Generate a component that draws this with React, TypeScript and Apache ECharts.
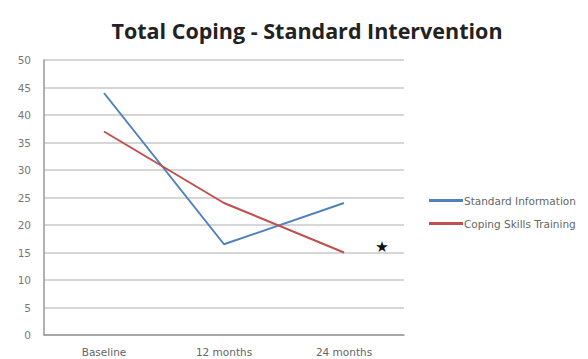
import React, { useEffect, useRef } from "react";
import * as echarts from "echarts";

const categories = ["Baseline", "12 months", "24 months"];
const standardInformation = [44, 16.5, 24];
const copingSkillsTraining = [37, 24, 15];
const seriesNames = ["Standard Information", "Coping Skills Training"];
const titleText = "Total Coping - Standard Intervention";

export default function App() {
  const ref = useRef<HTMLDivElement>(null);
  useEffect(() => {
    if (!ref.current) return;
    const chart = echarts.init(ref.current, null, { renderer: "svg" });
    chart.setOption({
      animation: false,
      backgroundColor: "#ffffff",
      title: {
        text: titleText,
        left: 302,
        textAlign: "center",
        top: 14,
        textStyle: { fontFamily: "Open Sans", fontWeight: "bold", fontSize: 21.5, color: "#222" },
      },
      legend: {
        orient: "vertical",
        left: 424,
        top: 190,
        itemWidth: 34,
        itemHeight: 3,
        itemGap: 12,
        icon: "rect",
        textStyle: { fontFamily: "DejaVu Sans", fontSize: 10.5, color: "#666", padding: [0, 0, 0, -4] },
        data: seriesNames,
      },
      grid: { left: 44, right: 184, top: 60, bottom: 24 },
      xAxis: {
        type: "category",
        data: categories,
        boundaryGap: true,
        axisLine: { lineStyle: { color: "#999", width: 1.5 } },
        axisTick: { show: false },
        axisLabel: { fontFamily: "DejaVu Sans", fontSize: 10.5, color: "#666", margin: 11 },
      },
      yAxis: {
        type: "value",
        min: 0,
        max: 50,
        interval: 5,
        axisLine: { show: true, lineStyle: { color: "#999", width: 1.5 } },
        axisTick: { show: false },
        axisLabel: { fontFamily: "DejaVu Sans", fontSize: 10.5, color: "#777", margin: 13 },
        splitLine: { lineStyle: { color: "#c8c8c8", width: 1.5 } },
      },
      series: [
        {
          name: seriesNames[0],
          type: "line",
          data: standardInformation,
          symbol: "none",
          lineStyle: { color: "#4f81bd", width: 2 },
          itemStyle: { color: "#4f81bd" },
        },
        {
          name: seriesNames[1],
          type: "line",
          data: copingSkillsTraining,
          symbol: "none",
          lineStyle: { color: "#c0504d", width: 2 },
          itemStyle: { color: "#c0504d" },
        },
      ],
      graphic: [
        {
          type: "text",
          x: 382,
          y: 247,
          style: {
            text: "★",
            fontSize: 15,
            fill: "#111",
            align: "center",
            verticalAlign: "middle",
            fontFamily: "DejaVu Sans",
          },
        },
      ],
    });
    return () => chart.dispose();
  }, []);
  return <div ref={ref} style={{ width: 588, height: 359, position: "absolute", left: 0, top: 0 }} />;
}
